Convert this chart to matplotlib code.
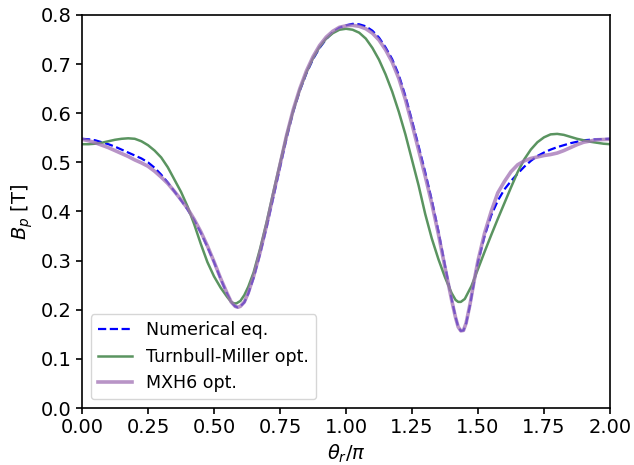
import matplotlib
matplotlib.use("Agg")
import matplotlib.pyplot as plt

# Numerical equilibrium
x_num = [0.000, 0.025, 0.050, 0.075, 0.100, 0.125, 0.150, 0.175, 0.200, 0.225, 0.250, 0.275, 0.300, 0.325,
         0.350, 0.375, 0.400, 0.425, 0.450, 0.475, 0.500, 0.525, 0.550, 0.565, 0.580, 0.590, 0.600, 0.615,
         0.630, 0.650, 0.675, 0.700, 0.725, 0.750, 0.775, 0.800, 0.825, 0.850, 0.875, 0.900, 0.925, 0.950,
         0.975, 1.000, 1.025, 1.050, 1.075, 1.100, 1.125, 1.150, 1.175, 1.200, 1.225, 1.250, 1.275, 1.300,
         1.325, 1.350, 1.375, 1.400, 1.415, 1.425, 1.435, 1.445, 1.455, 1.470, 1.485, 1.500, 1.525, 1.550,
         1.575, 1.600, 1.625, 1.650, 1.675, 1.700, 1.725, 1.750, 1.775, 1.800, 1.825, 1.850, 1.875, 1.900,
         1.950, 2.000]
y_num = [0.548, 0.547, 0.545, 0.541, 0.537, 0.532, 0.526, 0.520, 0.514, 0.508, 0.500, 0.489, 0.475, 0.459,
         0.441, 0.423, 0.404, 0.382, 0.357, 0.328, 0.297, 0.263, 0.232, 0.216, 0.207, 0.205, 0.207, 0.215,
         0.233, 0.265, 0.315, 0.370, 0.430, 0.490, 0.550, 0.603, 0.646, 0.681, 0.710, 0.733, 0.751, 0.765,
         0.774, 0.779, 0.782, 0.781, 0.777, 0.768, 0.754, 0.734, 0.710, 0.678, 0.635, 0.585, 0.533, 0.480,
         0.423, 0.360, 0.290, 0.222, 0.185, 0.165, 0.157, 0.158, 0.172, 0.210, 0.256, 0.297, 0.350, 0.392,
         0.422, 0.445, 0.462, 0.477, 0.491, 0.503, 0.513, 0.520, 0.526, 0.531, 0.535, 0.539, 0.542, 0.545,
         0.547, 0.548]

# Turnbull-Miller optimisation
x_tm = [0.000, 0.025, 0.050, 0.075, 0.100, 0.125, 0.150, 0.175, 0.200, 0.225, 0.250, 0.275, 0.300, 0.325,
        0.350, 0.375, 0.400, 0.425, 0.450, 0.475, 0.500, 0.525, 0.550, 0.565, 0.575, 0.585, 0.600, 0.615,
        0.630, 0.650, 0.675, 0.700, 0.725, 0.750, 0.775, 0.800, 0.825, 0.850, 0.875, 0.900, 0.925, 0.950,
        0.975, 1.000, 1.025, 1.050, 1.075, 1.100, 1.125, 1.150, 1.175, 1.200, 1.225, 1.250, 1.275, 1.300,
        1.325, 1.350, 1.375, 1.400, 1.415, 1.425, 1.435, 1.450, 1.475, 1.500, 1.525, 1.550, 1.575, 1.600,
        1.625, 1.650, 1.675, 1.700, 1.725, 1.750, 1.775, 1.800, 1.825, 1.850, 1.875, 1.900, 1.925, 1.950,
        1.975, 2.000]
y_tm = [0.537, 0.537, 0.538, 0.540, 0.543, 0.546, 0.548, 0.549, 0.548, 0.543, 0.535, 0.524, 0.510, 0.490,
        0.465, 0.440, 0.410, 0.374, 0.334, 0.297, 0.268, 0.245, 0.226, 0.216, 0.213, 0.213, 0.218, 0.230,
        0.247, 0.276, 0.325, 0.380, 0.440, 0.498, 0.555, 0.605, 0.648, 0.683, 0.712, 0.735, 0.752, 0.763,
        0.770, 0.772, 0.770, 0.764, 0.752, 0.733, 0.709, 0.679, 0.644, 0.603, 0.557, 0.505, 0.453, 0.395,
        0.345, 0.303, 0.266, 0.234, 0.220, 0.216, 0.216, 0.222, 0.248, 0.283, 0.318, 0.352, 0.385, 0.417,
        0.449, 0.480, 0.506, 0.526, 0.541, 0.551, 0.557, 0.558, 0.556, 0.552, 0.548, 0.545, 0.542, 0.540,
        0.538, 0.537]

# MXH6 optimisation
x_mxh = [0.000, 0.025, 0.050, 0.075, 0.100, 0.125, 0.150, 0.175, 0.200, 0.225, 0.250, 0.275, 0.300, 0.325,
         0.350, 0.375, 0.400, 0.425, 0.450, 0.475, 0.500, 0.525, 0.550, 0.565, 0.580, 0.590, 0.600, 0.615,
         0.630, 0.650, 0.675, 0.700, 0.725, 0.750, 0.775, 0.800, 0.825, 0.850, 0.875, 0.900, 0.925, 0.950,
         0.975, 1.000, 1.025, 1.050, 1.075, 1.100, 1.125, 1.150, 1.175, 1.200, 1.225, 1.250, 1.275, 1.300,
         1.325, 1.350, 1.375, 1.400, 1.415, 1.425, 1.435, 1.445, 1.455, 1.470, 1.485, 1.500, 1.525, 1.550,
         1.575, 1.600, 1.625, 1.650, 1.675, 1.700, 1.725, 1.750, 1.775, 1.800, 1.825, 1.850, 1.875, 1.900,
         1.950, 2.000]
y_mxh = [0.547, 0.544, 0.540, 0.535, 0.530, 0.524, 0.518, 0.512, 0.505, 0.499, 0.492, 0.482, 0.470, 0.457,
         0.441, 0.424, 0.406, 0.384, 0.359, 0.330, 0.298, 0.264, 0.233, 0.216, 0.207, 0.205, 0.207, 0.216,
         0.235, 0.268, 0.318, 0.374, 0.435, 0.495, 0.555, 0.607, 0.650, 0.686, 0.715, 0.738, 0.755, 0.767,
         0.775, 0.778, 0.779, 0.777, 0.772, 0.763, 0.749, 0.729, 0.704, 0.671, 0.628, 0.578, 0.525, 0.472,
         0.416, 0.354, 0.286, 0.220, 0.184, 0.165, 0.157, 0.158, 0.173, 0.212, 0.258, 0.300, 0.356, 0.400,
         0.438, 0.461, 0.481, 0.495, 0.503, 0.508, 0.511, 0.514, 0.516, 0.519, 0.524, 0.530, 0.536, 0.541,
         0.546, 0.547]

fig = plt.figure(figsize=(6.34, 4.65), dpi=100)
ax = fig.add_axes([82/634, 1 - 408/465, (610-82)/634, (408-15)/465])

ax.plot(x_num, y_num, 'b--', lw=1.6, label='Numerical eq.')
ax.plot(x_tm, y_tm, color='#5a9460', lw=1.8, label='Turnbull-Miller opt.')
ax.plot(x_mxh, y_mxh, color='#a070b4', lw=2.6, alpha=0.75, label='MXH6 opt.')

ax.set_xlim(0, 2)
ax.set_ylim(0, 0.8)
ax.set_xticks([0, 0.25, 0.5, 0.75, 1.0, 1.25, 1.5, 1.75, 2.0])
ax.set_xlabel(r'$\theta_r/\pi$', fontsize=14)
ax.set_ylabel(r'$B_p$ [T]', fontsize=14)
ax.tick_params(labelsize=14, width=1.2, length=4)
for s in ax.spines.values():
    s.set_linewidth(1.2)
ax.legend(loc='lower left', fontsize=12.5)

fig.savefig('out.png', dpi=100)
